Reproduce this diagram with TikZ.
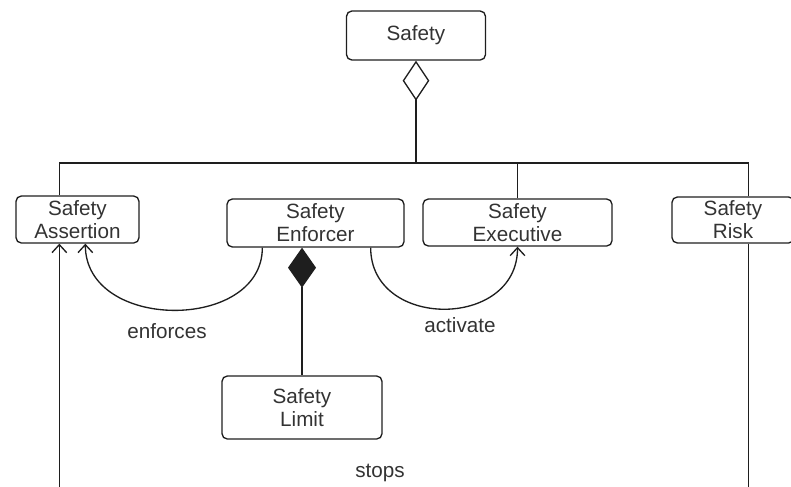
\documentclass[tikz,border=0pt]{standalone}
\usepackage{fontspec}
\setmainfont{Liberation Sans}
\usetikzlibrary{arrows.meta,calc}
\definecolor{ink}{HTML}{1E1E1E}
\definecolor{txt}{HTML}{333333}
\begin{document}
\begin{tikzpicture}[
  x=0.75pt, y=-0.75pt,
  line width=1pt, draw=ink,
  every node/.style={text=txt, font=\fontsize{15.5pt}{17.25pt}\selectfont},
  box/.style={draw=ink, rounded corners=4pt, align=center, inner sep=0pt},
  wh/.style 2 args={minimum width=#1*0.75pt, minimum height=#2*0.75pt},
  open tip/.style={-{Straight Barb[length=6pt,width=11pt]}},
  lbl/.style={inner sep=0pt}
]
\useasboundingbox (0,0) rectangle (791,486);

% class boxes
\node[box, wh={139}{49}] (safety)    at (416,35.5)  {Safety};
\node[box, wh={123}{47}] (assertion) at (77.5,219.5) {Safety\\Assertion};
\node[box, wh={177}{48}] (enforcer)  at (315.5,223) {Safety\\Enforcer};
\node[box, wh={189}{47}] (executive) at (517.5,222.5) {Safety\\Executive};
\node[box, wh={122}{46}] (risk)      at (733,220)   {Safety\\Risk};
\node[box, wh={160}{63}] (limit)     at (302,407.5) {Safety\\Limit};

% aggregation bus
\coordinate (bus) at (416,163);
\draw[{Diamond[open,length=30pt,width=20pt]}-] (safety.south) -- (bus);
\draw ($(assertion.north west)+(44,0)$) |- (bus) -| ($(risk.north west)+(77,0)$);
\draw ($(enforcer.north west)+(54,0)$) -- ($(enforcer.north west)+(54,0)$ |- bus);
\draw (executive.north) -- (executive.north |- bus);

% composition
\draw[{Diamond[length=30pt,width=21pt]}-] (enforcer.south -| limit.north) -- (limit.north);

% associations
\draw[open tip] ($(enforcer.south west)+(36,0)$) .. controls +(0,84) and +(0,88) .. ($(assertion.south west)+(70,0)$);
\draw[open tip] ($(enforcer.south east)+(-34,0)$) .. controls +(0,82) and +(0,83) .. (executive.south);
\draw[open tip] ($(risk.south west)+(77,0)$) -- ++(0,262) -| ($(assertion.south west)+(44,0)$);

% association labels
\node[lbl] (enforcesl) at (167,331) {enforces};
\node[lbl] (activatel) at (460,325) {activate};
\node[lbl] (stopsl)    at (380,473) {stops};
\end{tikzpicture}
\end{document}
